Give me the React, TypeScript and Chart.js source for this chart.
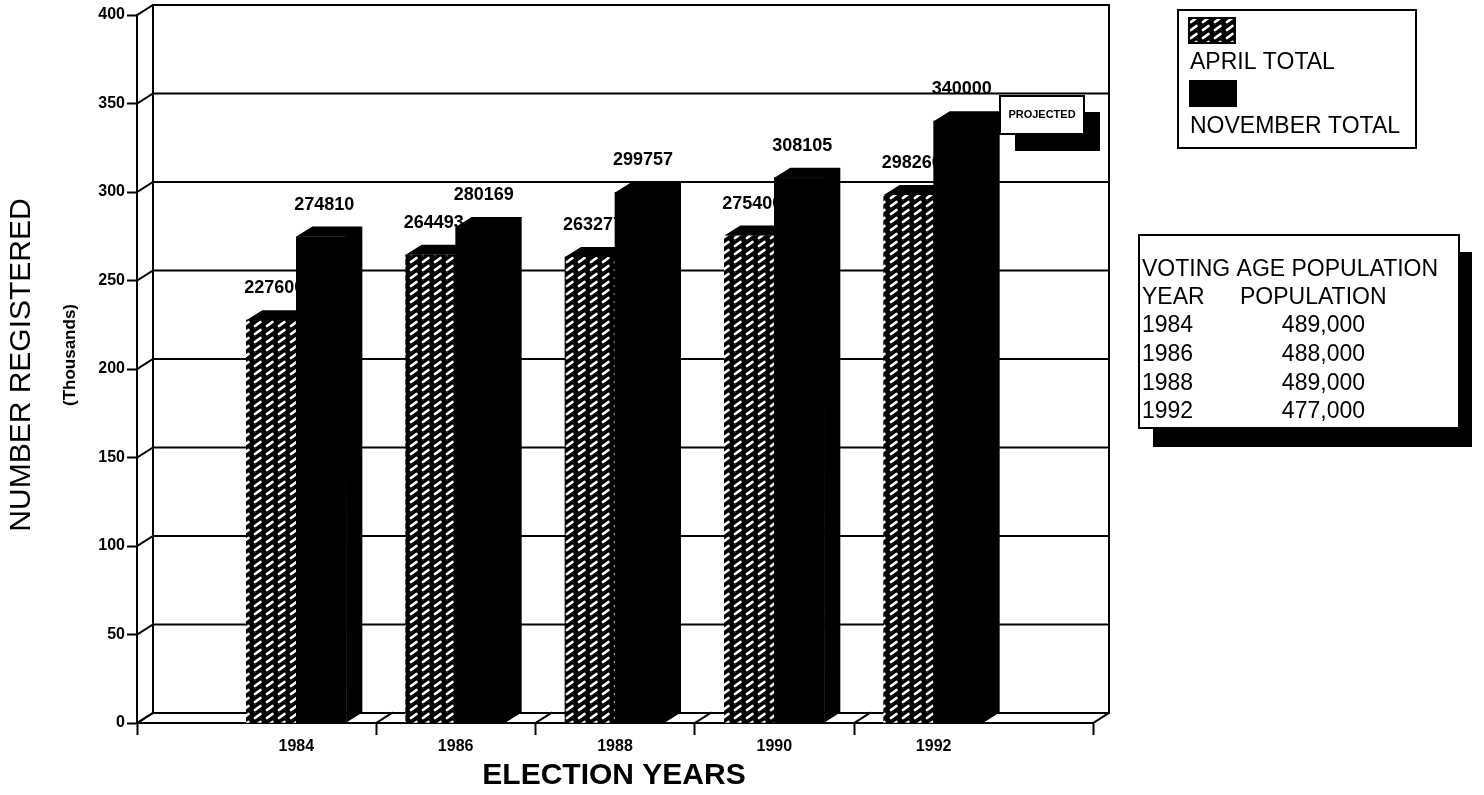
import React, { useEffect, useRef } from 'react';
import { Chart, registerables } from 'chart.js';

Chart.register(...registerables);

// Registered voters by election year (raw counts)
const electionYears = [1984, 1986, 1988, 1990, 1992];
const yearTickLabels = ['1984', '1986', '1988', '1990', '1992'];
const aprilTotals = [227600, 264493, 263277, 275400, 298260];
const novemberTotals = [274810, 280169, 299757, 308105, 340000];
const seriesNames = ['APRIL TOTAL', 'NOVEMBER TOTAL'];

// Axis range and slot dividers on the year axis
const yearMin = 1982;
const yearMax = 1994;
const slotDividers = [1982, 1985, 1987, 1989, 1991, 1994];
const registeredTicks = [0, 50000, 100000, 150000, 200000, 250000, 300000, 350000, 400000];

// Voting-age population table
const populationYears = ['1984', '1986', '1988', '1992'];
const populationValues = [489000, 488000, 489000, 477000];

const SANS = "'Liberation Sans', Arial, Helvetica, sans-serif";
const DX = 16; // depth offset of the 3D wall/bars
const DY = -10;

function makeHatch(): CanvasPattern | string {
  const c = document.createElement('canvas');
  c.width = 12;
  c.height = 8;
  const g = c.getContext('2d');
  if (!g) return '#000';
  g.fillStyle = '#000';
  g.fillRect(0, 0, 12, 8);
  g.strokeStyle = '#fff';
  g.lineWidth = 2.8;
  g.lineCap = 'round';
  g.beginPath();
  g.moveTo(3, 6);
  g.lineTo(8.4, 2);
  g.stroke();
  const p = g.createPattern(c, 'repeat');
  return p || '#000';
}

function line(ctx: CanvasRenderingContext2D, pts: number[][]) {
  ctx.beginPath();
  ctx.moveTo(pts[0][0], pts[0][1]);
  for (let i = 1; i < pts.length; i++) ctx.lineTo(pts[i][0], pts[i][1]);
  ctx.stroke();
}

// Top and side faces of each bar plus its value label
function drawBarDepth(chart: any, meta: any, values: number[]) {
  const ctx: CanvasRenderingContext2D = chart.ctx;
  ctx.save();
  meta.data.forEach((bar: any, i: number) => {
    const { x, y, base, width } = bar.getProps(['x', 'y', 'base', 'width'], true);
    const l = x - width / 2;
    const r = x + width / 2;
    ctx.fillStyle = '#000';
    ctx.beginPath();
    ctx.moveTo(l, y);
    ctx.lineTo(l + DX, y + DY);
    ctx.lineTo(r + DX, y + DY);
    ctx.lineTo(r + DX, base + DY);
    ctx.lineTo(r, base);
    ctx.lineTo(r - 0.5, y);
    ctx.closePath();
    ctx.fill();
    ctx.font = `bold 18px ${SANS}`;
    ctx.textAlign = 'center';
    ctx.textBaseline = 'middle';
    ctx.fillText(String(values[i]), x + 3, y - 32);
  });
  ctx.restore();
}

const wallPlugin = {
  id: 'wall3d',
  beforeDatasetsDraw(chart: any) {
    const ctx: CanvasRenderingContext2D = chart.ctx;
    const { left, right, top, bottom } = chart.chartArea;
    const yS = chart.scales.y;
    const xS = chart.scales.x;
    ctx.save();
    ctx.strokeStyle = '#000';
    ctx.lineWidth = 2;
    ctx.lineCap = 'square';
    registeredTicks.forEach((v) => {
      const py = yS.getPixelForValue(v);
      line(ctx, [[left, py], [left + DX, py + DY], [right + DX, py + DY]]);
    });
    line(ctx, [[left + DX, top + DY], [left + DX, bottom + DY]]);
    line(ctx, [[right + DX, top + DY], [right + DX, bottom + DY]]);
    slotDividers.forEach((v) => {
      const px = xS.getPixelForValue(v);
      line(ctx, [[px, bottom], [px + DX, bottom + DY]]);
    });
    ctx.restore();
  },
  // Bars are painted left series first so the right series overlaps it
  beforeDatasetDraw() {
    return false;
  },
  afterDatasetsDraw(chart: any) {
    [aprilTotals, novemberTotals].forEach((values, di) => {
      const meta = chart.getDatasetMeta(di);
      meta.controller.draw();
      drawBarDepth(chart, meta, values);
    });
  },
  afterDraw(chart: any) {
    const ctx: CanvasRenderingContext2D = chart.ctx;
    const hatch = chart.$hatch;
    ctx.save();
    ctx.fillStyle = '#000';
    ctx.strokeStyle = '#000';

    // Axis titles
    ctx.save();
    ctx.translate(22, 365);
    ctx.rotate(-Math.PI / 2);
    ctx.font = `30px ${SANS}`;
    ctx.textAlign = 'center';
    ctx.textBaseline = 'middle';
    ctx.fillText('NUMBER REGISTERED', 0, 0);
    ctx.restore();

    ctx.save();
    ctx.translate(70, 355);
    ctx.rotate(-Math.PI / 2);
    ctx.font = `bold 17px ${SANS}`;
    ctx.textAlign = 'center';
    ctx.textBaseline = 'middle';
    ctx.fillText('(Thousands)', 0, 0);
    ctx.restore();

    ctx.font = `bold 30px ${SANS}`;
    ctx.textAlign = 'center';
    ctx.textBaseline = 'middle';
    ctx.fillText('ELECTION YEARS', 614, 776);

    // PROJECTED tag
    ctx.fillRect(1015, 134, 85, 17);
    ctx.fillRect(1084, 112, 16, 39);
    ctx.fillStyle = '#fff';
    ctx.fillRect(1000, 96, 84, 38);
    ctx.fillStyle = '#000';
    ctx.lineWidth = 2;
    ctx.strokeRect(1000, 96, 84, 38);
    ctx.font = `bold 11px ${SANS}`;
    ctx.fillText('PROJECTED', 1042, 115);

    // Legend
    ctx.lineWidth = 2;
    ctx.strokeRect(1178, 10, 238, 138);
    ctx.fillStyle = hatch;
    ctx.fillRect(1189, 18, 46, 25);
    ctx.strokeRect(1189, 18, 46, 25);
    ctx.fillStyle = '#000';
    ctx.fillRect(1189, 80, 48, 27);
    ctx.font = `23px ${SANS}`;
    ctx.textAlign = 'left';
    ctx.textBaseline = 'middle';
    ctx.fillText(seriesNames[0], 1190, 63);
    ctx.fillText(seriesNames[1], 1190, 127);

    // Population table with drop shadow
    ctx.fillRect(1459, 252, 13, 195);
    ctx.fillRect(1153, 428, 319, 19);
    ctx.fillStyle = '#fff';
    ctx.fillRect(1139, 235, 320, 193);
    ctx.fillStyle = '#000';
    ctx.strokeRect(1139, 235, 320, 193);
    ctx.font = `23px ${SANS}`;
    ctx.textAlign = 'left';
    ctx.fillText('VOTING AGE POPULATION', 1142, 270);
    ctx.fillText('YEAR', 1142, 298);
    ctx.fillText('POPULATION', 1240, 298);
    populationYears.forEach((yr, i) => {
      const rowY = 326 + i * 28.7;
      ctx.textAlign = 'left';
      ctx.fillText(yr, 1142, rowY);
      ctx.textAlign = 'right';
      ctx.fillText(populationValues[i].toLocaleString('en-US'), 1365, rowY);
    });
    ctx.restore();
  },
};

export default function App() {
  const canvasRef = useRef<HTMLCanvasElement | null>(null);

  useEffect(() => {
    const canvas = canvasRef.current;
    if (!canvas) return;
    const hatch = makeHatch();
    const xTickValues = [1982, 1984, 1985, 1986, 1987, 1988, 1989, 1990, 1991, 1992, 1994];
    const chart: any = new Chart(canvas, {
      type: 'bar',
      data: {
        datasets: [
          {
            label: seriesNames[0],
            data: electionYears.map((yr, i) => ({ x: yr, y: aprilTotals[i] })),
            backgroundColor: hatch as any,
            borderWidth: 0,
            barThickness: 50,
          },
          {
            label: seriesNames[1],
            data: electionYears.map((yr, i) => ({ x: yr, y: novemberTotals[i] })),
            backgroundColor: '#000',
            borderWidth: 0,
            barThickness: 50,
          },
        ],
      },
      options: {
        responsive: false,
        maintainAspectRatio: false,
        animation: false,
        devicePixelRatio: 1,
        events: [],
        layout: { padding: { left: 77, right: 391, top: 15, bottom: 22 } },
        plugins: {
          legend: { display: false },
          tooltip: { enabled: false },
          title: { display: false },
        },
        scales: {
          x: {
            type: 'linear',
            min: yearMin,
            max: yearMax,
            offset: false,
            afterBuildTicks: (s: any) => {
              s.ticks = xTickValues.map((v) => ({ value: v }));
            },
            afterFit: (s: any) => {
              s.height = 50;
            },
            grid: {
              drawOnChartArea: false,
              offset: false,
              tickLength: 12,
              tickWidth: 2,
              tickColor: (c: any) =>
                c.tick && slotDividers.includes(c.tick.value) ? '#000' : 'rgba(0,0,0,0)',
            },
            border: { display: true, color: '#000', width: 2 },
            ticks: {
              autoSkip: false,
              maxRotation: 0,
              padding: 2,
              color: '#000',
              font: { family: SANS, size: 16, weight: 'bold' },
              callback: (v: any) => (yearTickLabels.includes(String(v)) ? String(v) : ''),
            },
          },
          y: {
            type: 'linear',
            min: 0,
            max: 400000,
            afterFit: (s: any) => {
              s.width = 60;
            },
            afterBuildTicks: (s: any) => {
              s.ticks = registeredTicks.map((v) => ({ value: v }));
            },
            grid: {
              drawOnChartArea: false,
              tickLength: 10,
              tickWidth: 2,
              tickColor: '#000',
            },
            border: { display: true, color: '#000', width: 2 },
            ticks: {
              padding: 2,
              color: '#000',
              font: { family: SANS, size: 16, weight: 'bold' },
              callback: (v: any) => String(Number(v) / 1000),
            },
          },
        },
      } as any,
      plugins: [wallPlugin],
    });
    chart.$hatch = hatch;
    chart.draw();
    return () => chart.destroy();
  }, []);

  return (
    <div style={{ position: 'fixed', left: 0, top: 0, width: 1484, height: 795, background: '#fff' }}>
      <canvas ref={canvasRef} width={1484} height={795} style={{ display: 'block' }} />
    </div>
  );
}
